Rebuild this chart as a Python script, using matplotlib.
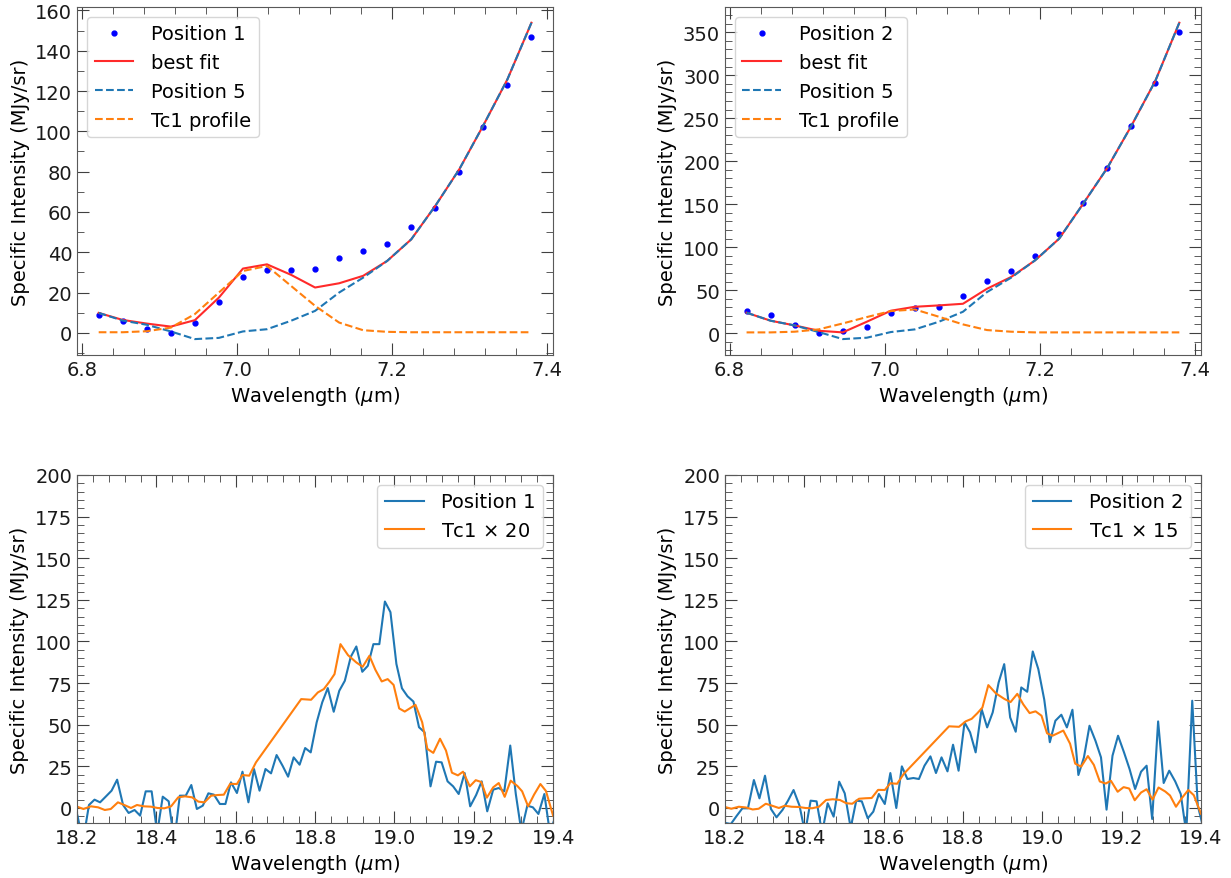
import matplotlib
matplotlib.use('Agg')
import matplotlib.pyplot as plt
import numpy as np
from matplotlib.ticker import MultipleLocator

# ---- 7 micron region (top row) ----
wave_short = [6.822, 6.853, 6.884, 6.915, 6.946, 6.977, 7.008, 7.039, 7.070, 7.101,
              7.132, 7.163, 7.194, 7.225, 7.256, 7.287, 7.318, 7.349, 7.380]

pos1 = [8.8, 6.1, 2.0, -0.2, 5.1, 15.2, 27.9, 31.4, 31.1, 31.6,
        36.9, 40.5, 44.3, 52.7, 61.8, 79.7, 102.0, 123.1, 146.9]
fit1 = [9.9, 6.4, 4.6, 3.1, 6.3, 17.5, 31.9, 34.0, 28.8, 22.5,
        24.6, 28.3, 35.7, 46.4, 63.0, 81.2, 103.0, 125.8, 153.9]
pos5_fit1 = [9.9, 6.1, 4.0, 0.7, -3.1, -2.5, 0.7, 1.8, 6.0, 10.9,
             20.0, 27.4, 35.7, 46.4, 63.0, 81.2, 103.0, 125.8, 153.9]
tc1_fit1 = [0.3, 0.3, 0.8, 2.6, 9.3, 20.0, 30.7, 33.2, 23.3, 13.4,
            5.1, 1.3, 0.5, 0.3, 0.3, 0.3, 0.3, 0.3, 0.3]

pos2 = [26.0, 20.9, 9.7, -0.4, 2.7, 7.0, 22.9, 28.7, 30.6, 43.4,
        60.5, 71.8, 89.2, 115.2, 151.3, 192.0, 240.5, 291.3, 349.9]
fit2 = [23.7, 14.4, 8.9, 2.7, 0.8, 13.2, 26.0, 30.6, 32.2, 34.1,
        51.6, 65.2, 84.6, 109.8, 150.5, 192.0, 240.9, 293.3, 361.1]
pos5_fit2 = [23.7, 14.4, 8.9, 1.2, -7.0, -5.4, 1.2, 4.3, 13.2, 24.8,
             47.7, 64.4, 84.6, 109.8, 150.5, 192.0, 240.9, 293.3, 361.1]
tc1_fit2 = [0.8, 0.8, 1.6, 4.3, 11.2, 18.6, 25.6, 27.5, 19.0, 10.1,
            3.5, 1.6, 0.8, 0.8, 0.8, 0.8, 0.8, 0.8, 0.8]

# ---- 19 micron region (bottom row) ----
wave_long = [18.201, 18.215, 18.230, 18.244, 18.258, 18.273, 18.287, 18.301, 18.316, 18.330,
             18.345, 18.359, 18.373, 18.388, 18.402, 18.416, 18.431, 18.445, 18.459, 18.474,
             18.488, 18.502, 18.517, 18.531, 18.545, 18.560, 18.574, 18.588, 18.603, 18.617,
             18.632, 18.646, 18.660, 18.675, 18.689, 18.703, 18.718, 18.732, 18.746, 18.761,
             18.775, 18.789, 18.804, 18.818, 18.832, 18.847, 18.861, 18.875, 18.890, 18.904,
             18.919, 18.933, 18.947, 18.962, 18.976, 18.990, 19.005, 19.019, 19.033, 19.048,
             19.062, 19.076, 19.091, 19.105, 19.119, 19.134, 19.148, 19.162, 19.177, 19.191,
             19.206, 19.220, 19.234, 19.249, 19.263, 19.277, 19.292, 19.306, 19.320, 19.335,
             19.349, 19.363, 19.378, 19.392, 19.406]

spec_pos1 = [-4.6, -20.0, 1.8, 5.0, 3.4, 7.0, 10.4, 17.0, 1.8, -3.0,
             -1.2, -4.6, 10.0, 10.0, -15.0, 6.8, 4.0, -20.0, 7.4, 7.4,
             13.8, -0.6, 1.4, 8.8, 8.0, 2.4, 2.4, 15.4, 9.0, 21.8,
             3.4, 23.4, 10.4, 23.4, 20.8, 31.8, 25.4, 18.8, 30.4, 26.0,
             36.0, 33.4, 51.4, 63.4, 72.0, 57.8, 70.4, 76.4, 90.8, 97.0,
             81.8, 85.4, 98.4, 98.4, 124.0, 117.6, 86.5, 71.9, 67.1, 63.9,
             48.5, 45.5, 13.0, 27.8, 27.4, 16.0, 13.0, 8.4, 21.0, 1.0,
             7.8, 16.0, -2.0, 11.0, 12.0, 10.0, 37.5, 8.4, -14.0, 1.4,
             0.4, -3.6, 8.4, -15.0, -5.0]

spec_pos2 = [-9.0, -9.6, -4.6, -0.2, -0.2, 16.8, 5.8, 19.4, -0.6, -5.6,
             -1.2, 4.4, 10.8, 1.4, -15.0, 4.4, 4.0, -15.0, 2.8, -5.2,
             15.8, 8.8, -12.0, 4.4, 4.0, -6.2, -2.2, 8.4, 2.4, 21.0,
             0.0, 25.0, 17.4, 18.0, 17.4, 25.4, 31.0, 21.0, 30.4, 22.0,
             38.0, 22.4, 51.4, 45.4, 33.4, 59.4, 48.4, 57.4, 75.4, 86.4,
             54.4, 45.8, 72.4, 69.8, 94.0, 83.4, 65.0, 39.5, 52.4, 56.0,
             48.4, 59.0, 19.8, 30.4, 49.4, 40.4, 30.4, -1.0, 31.4, 43.4,
             33.4, 23.4, 11.4, 21.8, 25.4, -6.6, 52.0, 15.0, 22.4, 16.0,
             8.4, -15.0, 64.4, 1.4, -12.0]

# Tc1 spectrum on its own grid (note the gap 18.65-18.77)
wave_tc1 = [18.198, 18.216, 18.235, 18.253, 18.270, 18.285, 18.303, 18.319, 18.336, 18.351,
            18.368, 18.386, 18.403, 18.420, 18.437, 18.455, 18.472, 18.490, 18.506, 18.521,
            18.538, 18.555, 18.570, 18.586, 18.603, 18.617, 18.634, 18.651, 18.765, 18.790,
            18.807, 18.822, 18.836, 18.849, 18.864, 18.883, 18.904, 18.920, 18.937, 18.952,
            18.968, 18.983, 18.998, 19.012, 19.026, 19.040, 19.053, 19.070, 19.083, 19.098,
            19.115, 19.130, 19.145, 19.160, 19.173, 19.190, 19.205, 19.219, 19.233, 19.249,
            19.263, 19.278, 19.293, 19.310, 19.322, 19.337, 19.352, 19.368, 19.382, 19.400]
spec_tc1 = [0.05, -0.03, 0.05, 0.02, -0.06, -0.03, 0.17, 0.09, 0.0, 0.09,
            0.05, 0.04, 0.0, -0.01, 0.05, 0.32, 0.35, 0.32, 0.19, 0.17,
            0.37, 0.39, 0.40, 0.725, 0.72, 0.99, 0.97, 1.37, 3.27, 3.25,
            3.47, 3.57, 3.79, 4.02, 4.92, 4.59, 4.37, 4.24, 4.57, 4.15,
            3.80, 3.87, 3.695, 2.99, 2.895, 3.0, 3.10, 2.575, 1.775, 1.655,
            2.08, 1.725, 1.06, 0.98, 1.09, 0.65, 0.835, 0.78, 0.31, 0.62,
            0.75, 0.335, 0.82, 0.66, 0.50, 0.05, 0.40, 0.72, 0.51, -0.23]

scale_pos1 = 20
scale_pos2 = 15

plt.rcParams['font.size'] = 14
plt.rcParams['xtick.direction'] = 'in'
plt.rcParams['ytick.direction'] = 'in'
plt.rcParams['xtick.top'] = True
plt.rcParams['ytick.right'] = True
plt.rcParams['xtick.major.size'] = 8.5
plt.rcParams['ytick.major.size'] = 8.5
plt.rcParams['xtick.minor.size'] = 5
plt.rcParams['ytick.minor.size'] = 5
plt.rcParams['xtick.minor.visible'] = True
plt.rcParams['ytick.minor.visible'] = True
plt.rcParams['xtick.color'] = '0.25'
plt.rcParams['ytick.color'] = '0.25'
plt.rcParams['xtick.labelcolor'] = '0.1'
plt.rcParams['ytick.labelcolor'] = '0.1'

fig, axes = plt.subplots(2, 2, figsize=(12.31, 8.79), dpi=100)
fig.subplots_adjust(left=0.0626, right=0.9756, bottom=0.0626, top=0.991,
                    wspace=0.361, hspace=0.345)

ylab = 'Specific Intensity (MJy/sr)'
xlab = r'Wavelength ($\mu$m)'


def fit_panel(ax, pos, fit, pos5, tc1, name, ymajor, yminor):
    ax.plot(wave_short, pos, 'b.', markersize=7, label=name)
    ax.plot(wave_short, fit, color='#ff2a2a', label='best fit')
    ax.plot(wave_short, pos5, '--', color='#1f77b4', label='Position 5')
    ax.plot(wave_short, tc1, '--', color='#ff7f0e', label='Tc1 profile')
    ax.xaxis.set_major_locator(MultipleLocator(0.2))
    ax.xaxis.set_minor_locator(MultipleLocator(0.04))
    ax.yaxis.set_major_locator(MultipleLocator(ymajor))
    ax.yaxis.set_minor_locator(MultipleLocator(yminor))
    ax.set_xlabel(xlab)
    ax.set_ylabel(ylab)
    ax.legend(loc='upper left', handletextpad=0.9)


def band_panel(ax, spec, scale, name):
    ax.plot(wave_long, spec, color='#1f77b4', label=name)
    ax.plot(wave_tc1, np.array(spec_tc1) * scale, color='#ff7f0e',
            label=r'Tc1 $\times$ ' + str(scale))
    ax.set_xlim(18.2, 19.4)
    ax.set_ylim(-9, 200)
    ax.xaxis.set_major_locator(MultipleLocator(0.2))
    ax.xaxis.set_minor_locator(MultipleLocator(0.04))
    ax.yaxis.set_major_locator(MultipleLocator(25))
    ax.yaxis.set_minor_locator(MultipleLocator(5))
    ax.set_xlabel(xlab)
    ax.set_ylabel(ylab)
    ax.legend(loc='upper right', handletextpad=0.9)


fit_panel(axes[0, 0], pos1, fit1, pos5_fit1, tc1_fit1, 'Position 1', 20, 10)
fit_panel(axes[0, 1], pos2, fit2, pos5_fit2, tc1_fit2, 'Position 2', 50, 10)
band_panel(axes[1, 0], spec_pos1, scale_pos1, 'Position 1')
band_panel(axes[1, 1], spec_pos2, scale_pos2, 'Position 2')

for ax in axes.flat:
    for sp in ax.spines.values():
        sp.set_color('0.35')

fig.savefig('out.png', dpi=100)
